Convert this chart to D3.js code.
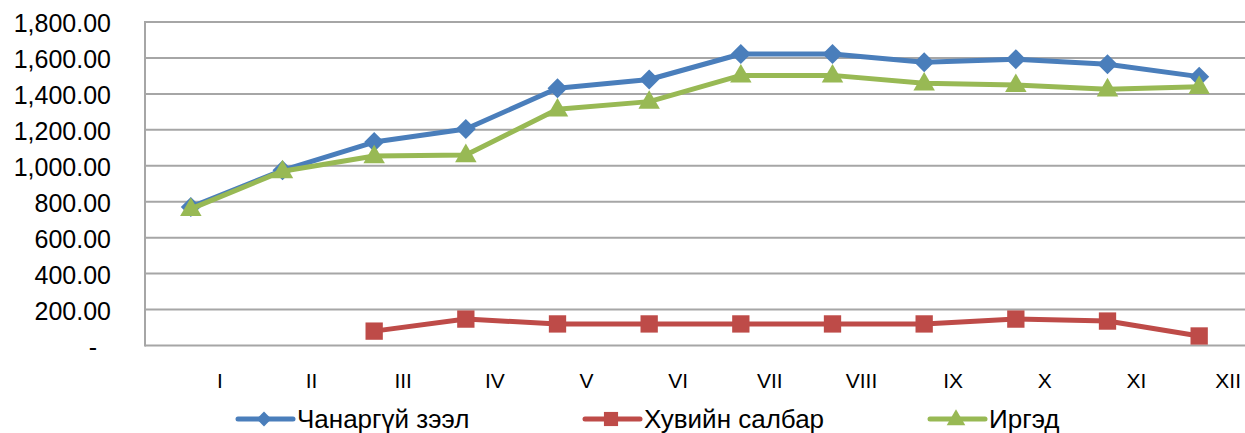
<!DOCTYPE html>
<html>
<head>
<meta charset="utf-8">
<script src="https://cdn.jsdelivr.net/npm/d3@7"></script>
<style>
  body { margin: 0; background: #fff; }
  svg { font-family: "Liberation Sans", Arial, sans-serif; }
  .grid line { stroke: #a6a6a6; stroke-width: 2; }
</style>
</head>
<body>
<div id="container"></div>
<script>
// months on x axis
var months = ['I', 'II', 'III', 'IV', 'V', 'VI', 'VII', 'VIII', 'IX', 'X', 'XI', 'XII'];
var yTicks = [0, 200, 400, 600, 800, 1000, 1200, 1400, 1600, 1800];

var chanargui = [770, 975, 1132, 1205, 1431, 1480, 1622, 1622, 1576, 1593, 1565, 1496];
var khuviin = [null, null, 80, 147, 120, 120, 120, 120, 120, 147, 136, 53];
var irged = [760, 970, 1054, 1060, 1314, 1357, 1503, 1503, 1459, 1450, 1426, 1440];

var seriesNames = ['Чанаргүй зээл', 'Хувийн салбар', 'Иргэд'];

function drawChart() {
  var width = 1245, height = 433;
  var plotLeft = 145, plotRight = 1245, plotTop = 22, plotBottom = 345.5;

  var svg = d3.select('#container').append('svg')
    .attr('width', width)
    .attr('height', height);

  var x = d3.scaleBand().domain(months).range([plotLeft, plotRight]);
  var y = d3.scaleLinear().domain([0, 1800]).range([plotBottom, plotTop]);

  // gridlines
  svg.append('g')
    .classed('grid', true)
    .selectAll('line')
    .data(yTicks)
    .enter().append('line')
    .attr('x1', plotLeft)
    .attr('x2', plotRight)
    .attr('y1', function (d) { return y(d); })
    .attr('y2', function (d) { return y(d); });

  svg.append('line')
    .attr('x1', plotLeft).attr('x2', plotLeft)
    .attr('y1', plotTop - 1).attr('y2', plotBottom + 1)
    .attr('stroke', '#a6a6a6').attr('stroke-width', 2);

  // y axis labels
  var fmt = d3.format(',.2f');
  var yAxis = d3.axisLeft(y)
    .tickValues(yTicks)
    .tickSize(0)
    .tickPadding(0)
    .tickFormat(function (d) { return d === 0 ? '-' : fmt(d); });

  var gy = svg.append('g')
    .attr('transform', 'translate(111,1.5)')
    .call(yAxis);
  gy.select('.domain').remove();
  gy.selectAll('text')
    .attr('font-size', 25)
    .attr('font-family', '"Liberation Sans", Arial, sans-serif')
    .attr('fill', '#000')
    .attr('dx', function (d) { return d === 0 ? -14 : 0; });

  // x axis labels (shifted right as in the original)
  var xAxis = d3.axisBottom(x).tickSize(0).tickPadding(0);
  var gx = svg.append('g')
    .attr('transform', 'translate(29,' + (plotBottom + 27.5) + ')')
    .call(xAxis);
  gx.select('.domain').remove();
  gx.selectAll('text')
    .attr('font-size', 21)
    .attr('font-family', '"Liberation Sans", Arial, sans-serif')
    .attr('fill', '#000');

  var colors = ['#4a7ebb', '#be4b48', '#98b954'];
  var allSeries = [chanargui, khuviin, irged];
  var symbols = [d3.symbolSquare, d3.symbolSquare, d3.symbolTriangle];
  var symSizes = [200, 300, 200];
  var symExtra = [' rotate(45)', '', ' translate(0,1)'];

  function cx(i) { return x(months[i]) + x.bandwidth() / 2; }

  var line = d3.line()
    .defined(function (d) { return d !== null; })
    .x(function (d, i) { return cx(i); })
    .y(function (d) { return y(d); });

  allSeries.forEach(function (vals, k) {
    var g = svg.append('g');
    g.append('path')
      .datum(vals)
      .attr('fill', 'none')
      .attr('stroke', colors[k])
      .attr('stroke-width', 5)
      .attr('stroke-linejoin', 'round')
      .attr('d', line);

    g.selectAll('path.m')
      .data(vals.map(function (v, i) { return { v: v, i: i }; })
        .filter(function (d) { return d.v !== null; }))
      .enter().append('path')
      .classed('m', true)
      .attr('d', d3.symbol().type(symbols[k]).size(symSizes[k]))
      .attr('fill', colors[k])
      .attr('transform', function (d) {
        return 'translate(' + cx(d.i) + ',' + y(d.v) + ')' + symExtra[k];
      });
  });

  // legend
  var legendX = [238, 585, 930];
  var legendY = 419;
  var legendSizes = [110, 200, 150];
  seriesNames.forEach(function (name, k) {
    var g = svg.append('g').attr('transform', 'translate(' + legendX[k] + ',' + legendY + ')');
    g.append('line')
      .attr('x1', 0).attr('x2', 55)
      .attr('y1', 0).attr('y2', 0)
      .attr('stroke', colors[k])
      .attr('stroke-width', 5)
      .attr('stroke-linecap', 'round');
    g.append('path')
      .attr('d', d3.symbol().type(symbols[k]).size(legendSizes[k]))
      .attr('fill', colors[k])
      .attr('transform', 'translate(26,0)' + symExtra[k]);
    g.append('text')
      .attr('x', 59)
      .attr('y', 9)
      .attr('font-size', 26)
      .attr('fill', '#000')
      .text(name);
  });
}

drawChart();
</script>
</body>
</html>
